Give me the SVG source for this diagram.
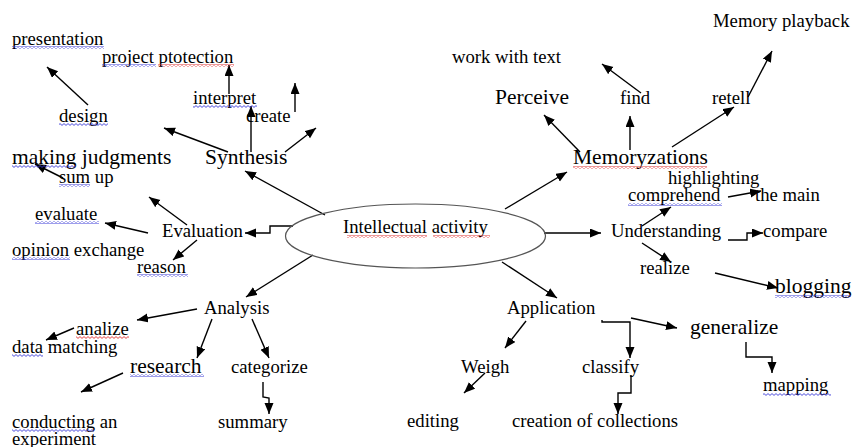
<svg xmlns="http://www.w3.org/2000/svg" width="854" height="447" viewBox="0 0 854 447">
<style>
text{font-family:"Liberation Serif","Times New Roman",serif;fill:#000;font-size:18.7px}
.big{font-size:21.5px}
.c line,.c path,.c polyline{stroke:#000;stroke-width:1.4;fill:none}
.a{marker-end:url(#ah)}
.wb{fill:url(#wavyB)}
.wr{fill:url(#wavyR)}
</style>
<defs>
<marker id="ah" markerUnits="userSpaceOnUse" markerWidth="12" markerHeight="10" refX="11" refY="4.5" orient="auto">
<path d="M0,0 L11,4.5 L0,9 z" fill="#000"/>
</marker>
<pattern id="wavyB" patternUnits="userSpaceOnUse" width="4" height="3">
<path d="M0,0.6 L2,2.4 L4,0.6" stroke="#3a3ad8" stroke-width="0.9" fill="none"/>
</pattern>
<pattern id="wavyR" patternUnits="userSpaceOnUse" width="4" height="3">
<path d="M0,0.6 L2,2.4 L4,0.6" stroke="#e03030" stroke-width="0.9" fill="none"/>
</pattern>
</defs>

<g id="connectors" class="c">
<!-- center outward -->
<line class="a" x1="325" y1="215" x2="245" y2="171"/>
<polyline class="a" points="293,226 270,226 270,233 245,233"/>
<line class="a" x1="313" y1="255" x2="246" y2="297"/>
<line class="a" x1="505" y1="209" x2="567" y2="172"/>
<line class="a" x1="544" y1="233" x2="601" y2="233"/>
<line class="a" x1="502" y1="262" x2="557" y2="298"/>
<!-- synthesis -->
<line class="a" x1="228" y1="152" x2="164" y2="128"/>
<line class="a" x1="251" y1="152" x2="251" y2="106"/>
<line class="a" x1="285" y1="152" x2="316" y2="128"/>
<line class="a" x1="229" y1="94" x2="229" y2="65"/>
<line class="a" x1="295" y1="112" x2="295" y2="83"/>
<line class="a" x1="88" y1="105" x2="47" y2="67"/>
<line class="a" x1="63" y1="178" x2="35" y2="164"/>
<!-- evaluation -->
<line class="a" x1="187" y1="225" x2="149" y2="197"/>
<line class="a" x1="148" y1="233" x2="105" y2="223"/>
<line class="a" x1="197" y1="240" x2="173" y2="260"/>
<!-- analysis -->
<line class="a" x1="197" y1="309" x2="137" y2="320"/>
<line class="a" x1="74" y1="328" x2="46" y2="340"/>
<line class="a" x1="212" y1="319" x2="197" y2="358"/>
<line class="a" x1="252" y1="319" x2="269" y2="358"/>
<line class="a" x1="123" y1="373" x2="81" y2="392"/>
<polyline class="a" points="263,382 263,397 269,398 269,414"/>
<!-- memoryzations -->
<line class="a" x1="580" y1="152" x2="544" y2="115"/>
<line class="a" x1="630" y1="150" x2="630" y2="116"/>
<line class="a" x1="672" y1="147" x2="734" y2="107"/>
<line class="a" x1="641" y1="93" x2="602" y2="64"/>
<line class="a" x1="748" y1="97" x2="772" y2="51"/>
<!-- understanding -->
<line class="a" x1="642" y1="226" x2="671" y2="207"/>
<line class="a" x1="728" y1="197" x2="761" y2="191"/>
<polyline class="a" points="728,240 747,240 747,233 763,233"/>
<line class="a" x1="642" y1="243" x2="671" y2="262"/>
<line class="a" x1="715" y1="273" x2="778" y2="288"/>
<!-- application -->
<line class="a" x1="526" y1="321" x2="505" y2="348"/>
<line class="a" x1="485" y1="373" x2="464" y2="393"/>
<polyline class="a" points="602,320 602,322 630,322 630,358"/>
<line class="a" x1="631" y1="318" x2="677" y2="328"/>
<polyline class="a" points="746,342 746,357 772,357 772,373"/>
<polyline class="a" points="631,375 631,393 618,393 618,414"/>
</g>

<g id="center">
<ellipse cx="415.5" cy="236" rx="130" ry="32" fill="none" stroke="#555" stroke-width="1.2"/>
<text x="343" y="233">Intellectual activity</text>
<rect class="wr" x="347" y="235" width="80" height="3"/>
<rect class="wr" x="433" y="235" width="57" height="3"/>
</g>

<g id="synthesis"><text class="big" x="205" y="164">Synthesis</text></g>
<g id="interpret"><text x="193" y="104">interpret</text><rect class="wb" x="193" y="105" width="64" height="3"/></g>
<g id="project-ptotection"><text x="102" y="63">project ptotection</text><rect class="wb" x="102" y="64" width="54" height="3"/><rect class="wr" x="158" y="64" width="76" height="3"/></g>
<g id="create"><text x="246" y="122">create</text></g>
<g id="design"><text x="59" y="122">design</text><rect class="wb" x="59" y="123" width="49" height="3"/></g>
<g id="presentation"><text x="12" y="45">presentation</text><rect class="wb" x="12" y="46" width="92" height="3"/></g>
<g id="making-judgments"><text class="big" x="12" y="164">making judgments</text><rect class="wb" x="12" y="165" width="64" height="3"/></g>
<g id="sum-up"><text x="59" y="183">sum up</text><rect class="wb" x="59" y="184" width="31" height="3"/></g>

<g id="evaluation"><text x="162" y="237">Evaluation</text></g>
<g id="evaluate"><text x="35" y="220">evaluate</text><rect class="wb" x="35" y="221" width="64" height="3"/></g>
<g id="opinion-exchange"><text x="12" y="256">opinion exchange</text><rect class="wb" x="12" y="257" width="58" height="3"/></g>
<g id="reason"><text x="137" y="273">reason</text><rect class="wb" x="137" y="274" width="51" height="3"/></g>

<g id="analysis"><text x="204" y="314">Analysis</text></g>
<g id="analize"><text x="76" y="335">analize</text><rect class="wr" x="76" y="336" width="53" height="3"/></g>
<g id="data-matching"><text x="12" y="353">data matching</text><rect class="wb" x="12" y="354" width="31" height="3"/></g>
<g id="research"><text class="big" x="130" y="373">research</text><rect class="wb" x="130" y="374" width="74" height="3"/></g>
<g id="categorize"><text x="231" y="373">categorize</text></g>
<g id="conducting"><text x="12" y="428">conducting an</text><text x="12" y="445">experiment</text><rect class="wb" x="12" y="429" width="82" height="3"/></g>
<g id="summary"><text x="218" y="428">summary</text></g>

<g id="memoryzations"><text class="big" x="573" y="164">Memoryzations</text><rect class="wr" x="573" y="166" width="134" height="3"/></g>
<g id="perceive"><text class="big" x="495" y="104">Perceive</text></g>
<g id="find"><text x="620" y="104">find</text></g>
<g id="retell"><text x="712" y="104">retell</text></g>
<g id="work-with-text"><text x="452" y="63">work with text</text></g>
<g id="memory-playback"><text x="713" y="27">Memory playback</text></g>

<g id="understanding"><text x="611" y="237">Understanding</text></g>
<g id="highlighting"><text x="668" y="184">highlighting</text></g>
<g id="comprehend"><text x="628" y="201">comprehend</text><rect class="wb" x="628" y="203" width="94" height="3"/></g>
<g id="the-main"><text x="755" y="201">the main</text></g>
<g id="compare"><text x="763" y="237">compare</text></g>
<g id="realize"><text x="640" y="274">realize</text></g>
<g id="blogging"><text class="big" x="775" y="293">blogging</text><rect class="wb" x="775" y="295" width="76" height="3"/></g>

<g id="application"><text x="507" y="314">Application</text></g>
<g id="generalize"><text class="big" x="690" y="334">generalize</text></g>
<g id="weigh"><text x="461" y="373">Weigh</text></g>
<g id="classify"><text x="582" y="373">classify</text></g>
<g id="mapping"><text x="763" y="391">mapping</text><rect class="wb" x="763" y="393" width="68" height="3"/></g>
<g id="editing"><text x="407" y="427">editing</text></g>
<g id="creation"><text x="512" y="427">creation of collections</text></g>
</svg>
